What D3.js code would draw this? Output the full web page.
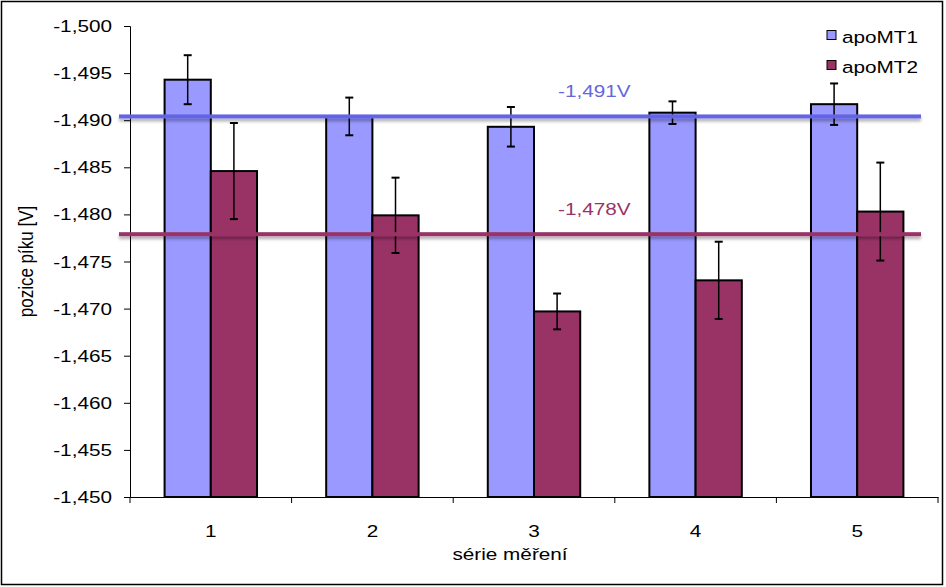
<!DOCTYPE html>
<html><head><meta charset="utf-8">
<script src="https://cdn.jsdelivr.net/npm/d3@7"></script>
<style>body{margin:0;background:#fff}svg{display:block}text{font-family:"Liberation Sans",Arial,sans-serif;}</style>
</head><body>
<svg id="c" width="946" height="587"></svg>
<script>
const categories = ["1","2","3","4","5"];
const seriesNames = ["apoMT1","apoMT2"];
const apoMT1 = [-1.4943, -1.4904, -1.4893, -1.4908, -1.4917];
const apoMT1Err = [0.0026, 0.0020, 0.0021, 0.0012, 0.0022];
const apoMT2 = [-1.4846, -1.4799, -1.4697, -1.4730, -1.4803];
const apoMT2Err = [0.0051, 0.0040, 0.0019, 0.0041, 0.0052];
const yTicks = [-1.500,-1.495,-1.490,-1.485,-1.480,-1.475,-1.470,-1.465,-1.460,-1.455,-1.450];
const refValues = [-1.4904, -1.4779];
const refLabels = ["-1,491V", "-1,478V"];
const colors = ["#9999FF", "#993366"];
const refColors = ["#6464E6", "#993366"];
const refTextColors = ["#6666DD", "#993366"];

const svg = d3.select("#c");
const defs = svg.append("defs");
const f = defs.append("filter").attr("id","sh").attr("filterUnits","userSpaceOnUse")
  .attr("x",0).attr("y",0).attr("width",946).attr("height",587);
f.append("feDropShadow").attr("dx",0).attr("dy",3).attr("stdDeviation",1.5).attr("flood-color","#000").attr("flood-opacity",0.3);

const SX = 1.22, FS = 17;
const L = 130, R = 938, T = 26, B = 497;

svg.append("rect").attr("x",1.5).attr("y",1.5).attr("width",941).attr("height",583)
  .attr("fill","#fff").attr("stroke","#000").attr("stroke-width",1.5);

const x = d3.scaleBand().domain(categories).range([L,R]).paddingInner(0.428).paddingOuter(0.214);
const xs = d3.scaleBand().domain(seriesNames).range([0,x.bandwidth()]);
const y = d3.scaleLinear().domain([-1.450,-1.500]).range([B,T]);

function stext(g, tx, ty, str, anchor, color, rot){
  return g.append("text").attr("transform",`translate(${tx},${ty}) scale(${SX},1)` + (rot?` rotate(${rot})`:""))
    .attr("text-anchor",anchor).attr("font-size",FS).attr("fill",color||"#000").text(str);
}

// bars
const data = categories.map((c,i)=>({c, vals:[
  {s:"apoMT1", v:apoMT1[i], e:apoMT1Err[i], col:colors[0]},
  {s:"apoMT2", v:apoMT2[i], e:apoMT2Err[i], col:colors[1]}]}));
const grp = svg.append("g").selectAll("g").data(data).join("g").attr("transform",d=>`translate(${x(d.c)},0)`);
grp.selectAll("rect").data(d=>d.vals).join("rect")
  .attr("x",d=>xs(d.s)).attr("width",xs.bandwidth())
  .attr("y",d=>y(d.v)).attr("height",d=>y(-1.450)-y(d.v))
  .attr("fill",d=>d.col).attr("stroke","#000").attr("stroke-width",2);

// axes
const yAxis = svg.append("g").attr("transform",`translate(${L},0)`)
  .call(d3.axisLeft(y).tickValues(yTicks).tickSize(6).tickFormat(""));
yAxis.select(".domain").attr("stroke","#000");
yAxis.selectAll(".tick line").attr("stroke","#000");
yTicks.forEach(t=>{ stext(svg, 112, y(t)+6, d3.format(".3f")(t).replace("−","-").replace(".",","), "end"); });

const xAxis = svg.append("g").attr("transform",`translate(0,${B})`)
  .call(d3.axisBottom(x).tickSize(0).tickFormat(""));
xAxis.select(".domain").attr("stroke","#000");
const bounds = categories.map(c=>x(c)-x.step()*x.paddingInner()/2);
bounds.push(R);
bounds.forEach(b=>svg.append("line").attr("x1",b).attr("x2",b).attr("y1",B).attr("y2",B+6).attr("stroke","#000"));
categories.forEach(c=>stext(svg, x(c)+x.bandwidth()/2, 537, c, "middle"));

stext(svg, 510, 560, "série měření", "middle");
stext(svg, 33, (T+B)/2, "pozice píku [V]", "middle", "#000", -90);

// error bars
const eb = grp.selectAll("g.err").data(d=>d.vals).join("g").attr("class","err");
eb.append("line").attr("x1",d=>xs(d.s)+xs.bandwidth()/2).attr("x2",d=>xs(d.s)+xs.bandwidth()/2)
  .attr("y1",d=>y(d.v-d.e)).attr("y2",d=>y(d.v+d.e)).attr("stroke","#000").attr("stroke-width",1.5);
[-1,1].forEach(sg=>{
  eb.append("line").attr("x1",d=>xs(d.s)+xs.bandwidth()/2-4).attr("x2",d=>xs(d.s)+xs.bandwidth()/2+4)
    .attr("y1",d=>y(d.v+sg*d.e)).attr("y2",d=>y(d.v+sg*d.e)).attr("stroke","#000").attr("stroke-width",2);
});

// reference lines
refValues.forEach((v,i)=>{
  svg.append("rect").attr("x",L-11).attr("width",(R-17)-(L-11)).attr("y",y(v)-2).attr("height",4)
    .attr("fill",refColors[i]).attr("filter","url(#sh)");
  stext(svg, 558, y(v)-19, refLabels[i], "start", refTextColors[i]);
});

// legend
seriesNames.forEach((s,i)=>{
  const ly = 35 + i*30;
  svg.append("rect").attr("x",827).attr("y",ly-4.5).attr("width",9).attr("height",9)
    .attr("fill",colors[i]).attr("stroke","#000").attr("stroke-width",1);
  stext(svg, 842, ly+8, s, "start");
});
</script>
</body></html>
